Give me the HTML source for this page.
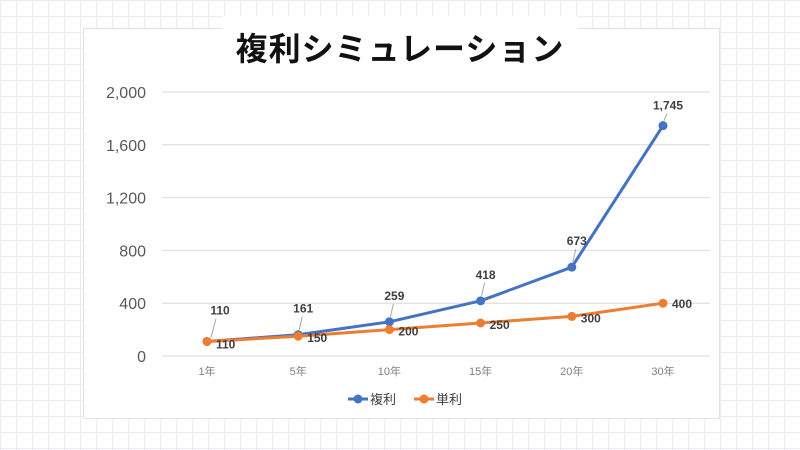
<!DOCTYPE html>
<html><head><meta charset="utf-8"><style>
body{margin:0;width:800px;height:450px;overflow:hidden;background-color:#fff;
background-image:linear-gradient(#ebebf8 1px,transparent 1px),linear-gradient(90deg,#ebebf8 1px,transparent 1px);background-size:16px 16px;font-family:"Liberation Sans","Noto Sans CJK JP",sans-serif;}
#card{position:absolute;left:83px;top:28px;width:635px;height:389px;background:#fff;border:1px solid #e0e0ee;}
#titlebox{position:absolute;left:222px;top:16px;width:356px;height:50px;background:#fff;}
#title{position:absolute;left:0;width:800px;top:24px;text-align:center;font-size:32px;font-weight:bold;color:#111;font-family:"Noto Sans CJK JP",sans-serif;letter-spacing:1px}
svg{position:absolute;left:0;top:0}
</style></head><body>
<div id="card"></div>
<div id="titlebox"></div>
<div id="title">複利シミュレーション</div>
<svg id="chart" width="800" height="450"></svg>
<script>
const categories=["1年","5年","10年","15年","20年","30年"];
const compound=[110,161,259,418,673,1745];
const simple=[110,150,200,250,300,400];
const compoundLabels=["110","161","259","418","673","1,745"];
const simpleLabels=["110","150","200","250","300","400"];
const yTicks=[0,400,800,1200,1600,2000];
const yTickLabels=["0","400","800","1,200","1,600","2,000"];
const NS="http://www.w3.org/2000/svg";
const svg=document.getElementById('chart');
const y=v=>356-v*(264/2000);
const x=i=>207+i*91.2;
function mk(t,a,txt){const e=document.createElementNS(NS,t);for(const k in a)e.setAttribute(k,a[k]);if(txt!=null)e.textContent=txt;svg.appendChild(e);return e;}
yTicks.forEach((v,i)=>{
 const g=mk('line',{x1:162,x2:710,y1:y(v),y2:y(v),stroke:'#d9d9d9','stroke-width':1});
 
 
 const t=mk('text',{x:146,y:y(v)+6,'text-anchor':'end','font-size':16,fill:'#595959'},yTickLabels[i]);
 
 
});
categories.forEach((c,i)=>{
 const t=mk('text',{x:x(i),y:375,'text-anchor':'middle','font-size':11,fill:'#808080'},c);
 
 
});
function series(vals,color,name){
 const p=mk('polyline',{points:vals.map((v,i)=>x(i)+','+y(v)).join(' '),fill:'none',stroke:color,'stroke-width':3,'stroke-linejoin':'round'});
 
 
 vals.forEach((v,i)=>{const c=mk('circle',{cx:x(i),cy:y(v),r:4.5,fill:color});
 
 });
}
series(compound,'#4472c4','compound');
series(simple,'#ed7d31','simple');
compound.forEach((v,i)=>{
 const lx=i==0?x(i)+13:x(i)+5, ly=y(v)-(i==0?27:i==5?16:22);
 const l=mk('line',{x1:x(i)+(i==0?4:1),y1:y(v)-(i==0?4:5),x2:lx-(i==0?4:1),y2:ly+4,stroke:'#a6a6a6','stroke-width':1});
 
 
 const t=mk('text',{x:lx,y:ly,'text-anchor':'middle','font-size':12,'font-weight':'bold',fill:'#404040'},compoundLabels[i]);
 
 
});
simple.forEach((v,i)=>{
 const t=mk('text',{x:x(i)+9,y:y(v)+(i==0?7:i==5?5:6),'font-size':12,'font-weight':'bold',fill:'#404040'},simpleLabels[i]);
 
 
});
[['#4472c4','複利',348],['#ed7d31','単利',414]].forEach(([c,n,lx],k)=>{
 const l=mk('line',{x1:lx,x2:lx+20,y1:399,y2:399,stroke:c,'stroke-width':3});
 
 
 const d=mk('circle',{cx:lx+10,cy:399,r:4.5,fill:c});
 
 
 const t=mk('text',{x:lx+22,y:404,'font-size':13,fill:'#404040'},n);
 
 
});
</script>
</body></html>
